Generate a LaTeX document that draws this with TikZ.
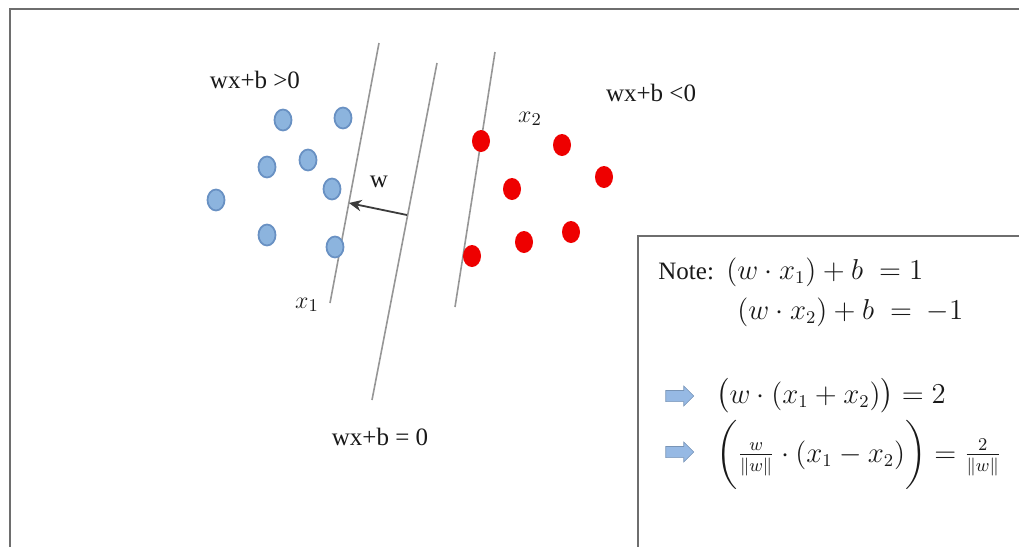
\documentclass[tikz,border=0pt]{standalone}
\usepackage{fontspec}
\setmainfont{Liberation Serif}
\usepackage{amsmath}
\usetikzlibrary{arrows.meta, shapes.geometric, shapes.arrows}
\definecolor{lineGray}{RGB}{150,150,150}
\definecolor{frameGray}{RGB}{110,110,110}
\definecolor{dotBlue}{RGB}{140,180,222}
\definecolor{dotBlueEdge}{RGB}{105,145,195}
\definecolor{dotRed}{RGB}{238,0,0}
\definecolor{arrowBlue}{RGB}{150,185,228}
\definecolor{darkText}{RGB}{25,25,25}
\tikzset{
    bluedot/.style={
        ellipse,
        fill=dotBlue,
        draw=dotBlueEdge,
        line width=0.9pt,
        minimum width=8.5pt,
        minimum height=10.5pt,
        inner sep=0pt
    },
    reddot/.style={
        ellipse,
        fill=dotRed,
        minimum width=9pt,
        minimum height=11pt,
        inner sep=0pt
    },
    hyperplane/.style={draw=lineGray, line width=0.8pt},
    warrow/.style={-{Stealth[length=2.2mm, width=2mm]}, line width=0.9pt, draw=darkText!85},
    frameline/.style={draw=frameGray, line width=1.2pt},
    label/.style={font=\fontsize{12.5}{14}\selectfont, text=darkText, inner sep=1pt},
    notetext/.style={font=\fontsize{12.5}{14}\selectfont, text=darkText, anchor=base west, inner sep=0pt},
    fatarrow/.style={
        single arrow,
        fill=arrowBlue,
        draw=arrowBlue!80!black,
        line width=0.3pt,
        minimum height=14pt,
        minimum width=10pt,
        single arrow head extend=2.2pt,
        inner sep=2.6pt
    }
}
\newcommand{\notemath}[1]{{\fontsize{13.5}{15}\selectfont$#1$}}

\begin{document}
\begin{tikzpicture}[x=0.5pt, y=-0.5pt]
    \useasboundingbox (0,0) rectangle (1019,547);
    % outer frame
    \draw[frameline] (10,547) -- (10,9) -- (1019,9);

    % hyperplanes
    \coordinate (h1top) at (379,43);
    \coordinate (h1bot) at (330,303);
    \coordinate (h0top) at (437,63);
    \coordinate (h0bot) at (372,400);
    \coordinate (h2top) at (495,52);
    \coordinate (h2bot) at (455,307);
    \draw[hyperplane] (h1top) -- (h1bot);
    \draw[hyperplane] (h0top) -- (h0bot);
    \draw[hyperplane] (h2top) -- (h2bot);

    % normal vector
    \coordinate (wstart) at (407,215);
    \coordinate (wtip) at (349,203);
    \draw[warrow] (wstart) -- (wtip);
    \node[label] (wlab) at (379,182) {w};

    % positive class
    \node[bluedot] (b1) at (283,120) {};
    \node[bluedot] (b2) at (343,118) {};
    \node[bluedot] (b3) at (267,167) {};
    \node[bluedot] (b4) at (308,160) {};
    \node[bluedot] (b5) at (332,189) {};
    \node[bluedot] (b6) at (216,200) {};
    \node[bluedot] (b7) at (267,235) {};
    \node[bluedot] (b8) at (335,247) {};

    % negative class
    \node[reddot] (r1) at (481,141) {};
    \node[reddot] (r2) at (562,145) {};
    \node[reddot] (r3) at (512,189) {};
    \node[reddot] (r4) at (604,177) {};
    \node[reddot] (r5) at (472,256) {};
    \node[reddot] (r6) at (524,242) {};
    \node[reddot] (r7) at (571,232) {};

    % region labels
    \node[label] (pos) at (255,80) {wx+b >0};
    \node[label] (neg) at (651,93) {wx+b <0};
    \node[label] (bound) at (380,437) {wx+b = 0};
    \node[label] (x2lab) at (530,119) {$x_2$};
    \node[label] (x1lab) at (307,305) {$x_1$};

    % note box
    \draw[frameline] (638,547) -- (638,236) -- (1019,236);
    \node[notetext] (note1) at (658,279) {Note:\ \ \notemath{(w\cdot x_1)+b\;=1}};
    \node[notetext] (note2) at (737,319) {\notemath{(w\cdot x_2)+b\;=\ -1}};
    \node[fatarrow] (imp1) at (677,396) {};
    \node[fatarrow] (imp2) at (677,452) {};
    \node[notetext] (note3) at (716,403) {\notemath{\bigl(w\cdot(x_1+x_2)\bigr)=2}};
    \node[notetext] (note4) at (716,462) {\notemath{\biggl(\tfrac{w}{\lVert w\rVert}\cdot(x_1-x_2)\biggr)=\tfrac{2}{\lVert w\rVert}}};
\end{tikzpicture}
\end{document}
